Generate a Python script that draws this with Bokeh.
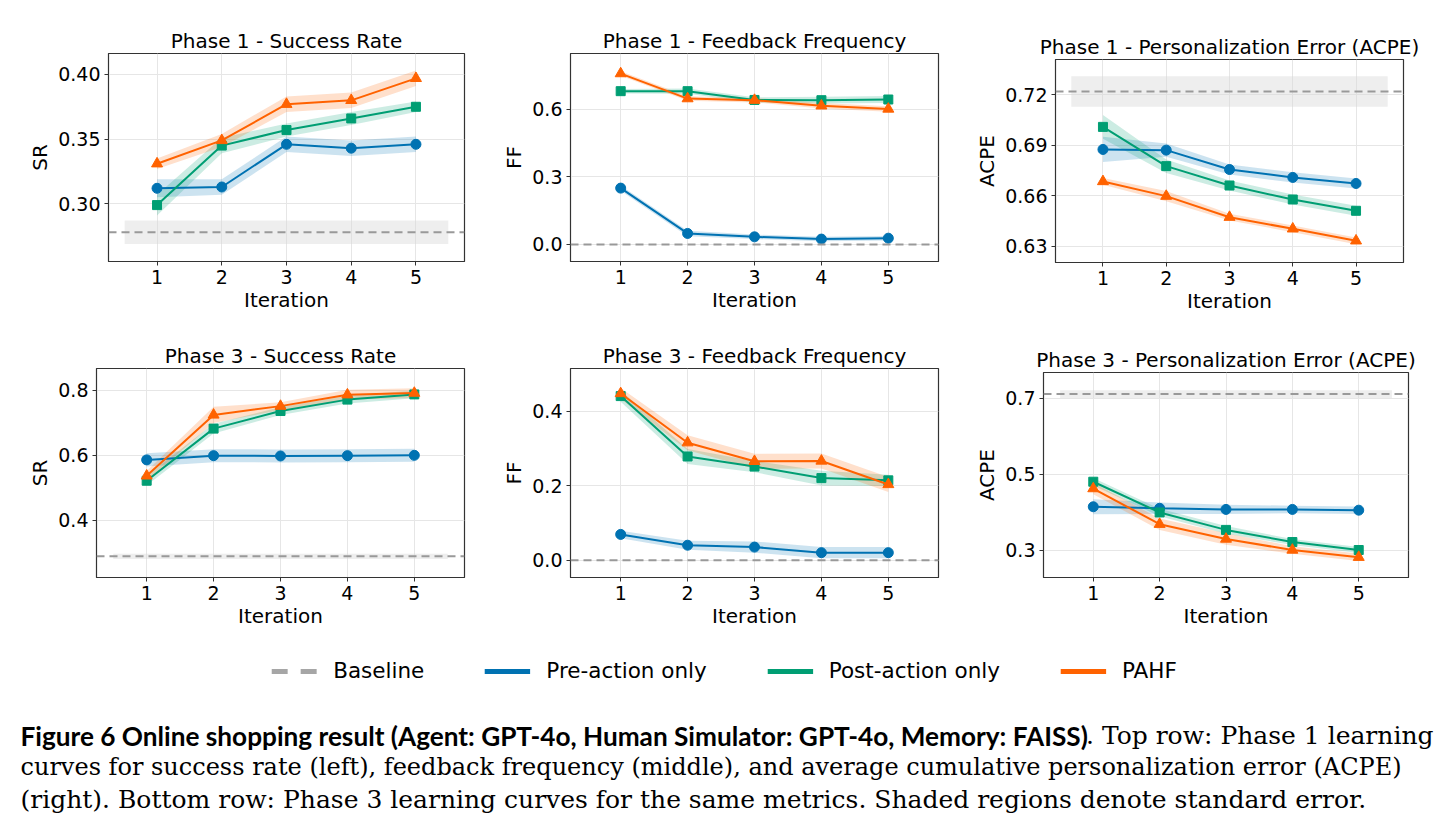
from bokeh.plotting import figure
from bokeh.layouts import column, row
from bokeh.models import (Range1d, FixedTicker, PrintfTickFormatter, Span,
                          Legend, LegendItem)
from bokeh.core.properties import value
from bokeh.embed import file_html
from bokeh.resources import INLINE

# ---------------- data ----------------
iterations = [1, 2, 3, 4, 5]
series_names = ["Pre-action only", "Post-action only", "PAHF"]
colors = ["#0072B2", "#009E73", "#FF6200"]
markers = ["circle", "square", "triangle"]
marker_sizes = [10, 9, 11]

# Phase 1 - Success Rate
p1_sr_pre = [0.312, 0.313, 0.346, 0.343, 0.346]
p1_sr_pre_se = [0.007, 0.006, 0.006, 0.006, 0.006]
p1_sr_post = [0.299, 0.345, 0.357, 0.366, 0.375]
p1_sr_post_se = [0.008, 0.006, 0.005, 0.005, 0.004]
p1_sr_pahf = [0.331, 0.349, 0.377, 0.380, 0.397]
p1_sr_pahf_se = [0.004, 0.005, 0.006, 0.006, 0.006]
p1_sr_base, p1_sr_base_se = 0.278, 0.009

# Phase 1 - Feedback Frequency
p1_ff_pre = [0.250, 0.049, 0.034, 0.024, 0.028]
p1_ff_pre_se = [0.012, 0.012, 0.010, 0.010, 0.010]
p1_ff_post = [0.680, 0.680, 0.641, 0.640, 0.643]
p1_ff_post_se = [0.010, 0.012, 0.012, 0.015, 0.015]
p1_ff_pahf = [0.758, 0.647, 0.640, 0.615, 0.601]
p1_ff_pahf_se = [0.010, 0.010, 0.010, 0.012, 0.012]
p1_ff_base, p1_ff_base_se = 0.0, 0.0

# Phase 1 - ACPE
p1_acpe_pre = [0.6876, 0.6872, 0.6757, 0.6710, 0.6674]
p1_acpe_pre_se = [0.0075, 0.004, 0.003, 0.003, 0.003]
p1_acpe_post = [0.7010, 0.6777, 0.6662, 0.6579, 0.6512]
p1_acpe_post_se = [0.007, 0.004, 0.003, 0.003, 0.003]
p1_acpe_pahf = [0.6686, 0.6599, 0.6474, 0.6405, 0.6334]
p1_acpe_pahf_se = [0.002, 0.003, 0.002, 0.002, 0.002]
p1_acpe_base, p1_acpe_base_se = 0.722, 0.009

# Phase 3 - Success Rate
p3_sr_pre = [0.586, 0.599, 0.598, 0.599, 0.600]
p3_sr_pre_se = [0.02, 0.02, 0.02, 0.02, 0.02]
p3_sr_post = [0.522, 0.682, 0.736, 0.771, 0.787]
p3_sr_post_se = [0.015, 0.015, 0.012, 0.012, 0.012]
p3_sr_pahf = [0.537, 0.724, 0.751, 0.786, 0.791]
p3_sr_pahf_se = [0.015, 0.025, 0.012, 0.015, 0.015]
p3_sr_base, p3_sr_base_se = 0.290, 0.008

# Phase 3 - Feedback Frequency
p3_ff_pre = [0.069, 0.040, 0.035, 0.020, 0.020]
p3_ff_pre_se = [0.010, 0.012, 0.015, 0.015, 0.015]
p3_ff_post = [0.440, 0.278, 0.251, 0.220, 0.214]
p3_ff_post_se = [0.015, 0.020, 0.015, 0.020, 0.015]
p3_ff_pahf = [0.447, 0.315, 0.265, 0.266, 0.203]
p3_ff_pahf_se = [0.015, 0.020, 0.020, 0.020, 0.020]
p3_ff_base, p3_ff_base_se = 0.0, 0.0

# Phase 3 - ACPE
p3_acpe_pre = [0.414, 0.410, 0.407, 0.407, 0.405]
p3_acpe_pre_se = [0.020, 0.015, 0.012, 0.010, 0.010]
p3_acpe_post = [0.480, 0.399, 0.353, 0.321, 0.300]
p3_acpe_post_se = [0.010, 0.010, 0.010, 0.008, 0.008]
p3_acpe_pahf = [0.462, 0.368, 0.329, 0.300, 0.281]
p3_acpe_pahf_se = [0.015, 0.015, 0.015, 0.010, 0.010]
p3_acpe_base, p3_acpe_base_se = 0.711, 0.010

titles = ["Phase 1 - Success Rate", "Phase 1 - Feedback Frequency",
          "Phase 1 - Personalization Error (ACPE)",
          "Phase 3 - Success Rate", "Phase 3 - Feedback Frequency",
          "Phase 3 - Personalization Error (ACPE)"]
ylabels = ["SR", "FF", "ACPE", "SR", "FF", "ACPE"]
yticks = [[0.30, 0.35, 0.40], [0.0, 0.3, 0.6], [0.63, 0.66, 0.69, 0.72],
          [0.4, 0.6, 0.8], [0.0, 0.2, 0.4], [0.3, 0.5, 0.7]]
yformats = ["%.2f", "%.1f", "%.2f", "%.1f", "%.1f", "%.1f"]
yranges = [(0.2554, 0.4162), (-0.0754, 0.847), (0.6205, 0.741),
           (0.225, 0.8665), (-0.0466, 0.514), (0.2275, 0.768)]

panel_series = [
    [(p1_sr_pre, p1_sr_pre_se), (p1_sr_post, p1_sr_post_se), (p1_sr_pahf, p1_sr_pahf_se)],
    [(p1_ff_pre, p1_ff_pre_se), (p1_ff_post, p1_ff_post_se), (p1_ff_pahf, p1_ff_pahf_se)],
    [(p1_acpe_pre, p1_acpe_pre_se), (p1_acpe_post, p1_acpe_post_se), (p1_acpe_pahf, p1_acpe_pahf_se)],
    [(p3_sr_pre, p3_sr_pre_se), (p3_sr_post, p3_sr_post_se), (p3_sr_pahf, p3_sr_pahf_se)],
    [(p3_ff_pre, p3_ff_pre_se), (p3_ff_post, p3_ff_post_se), (p3_ff_pahf, p3_ff_pahf_se)],
    [(p3_acpe_pre, p3_acpe_pre_se), (p3_acpe_post, p3_acpe_post_se), (p3_acpe_pahf, p3_acpe_pahf_se)],
]
baselines = [(p1_sr_base, p1_sr_base_se), (p1_ff_base, p1_ff_base_se), (p1_acpe_base, p1_acpe_base_se),
             (p3_sr_base, p3_sr_base_se), (p3_ff_base, p3_ff_base_se), (p3_acpe_base, p3_acpe_base_se)]

# layout: (width, height, border_left, border_right, border_top, border_bottom)
geoms = [(490, 320, 108, 26, 53, 59), (480, 320, 80, 32, 53, 59), (478, 320, 85, 45, 59, 58),
         (490, 320, 96, 26, 48, 63), (480, 320, 80, 32, 48, 63), (478, 320, 73, 40, 52, 63)]

FONT = "DejaVu Sans"


def make_panel(i):
    w, h, bl, br, bt, bb = geoms[i]
    p = figure(width=w, height=h, output_backend="svg", toolbar_location=None,
               x_range=Range1d(0.25, 5.75), y_range=Range1d(*yranges[i]),
               min_border_left=bl, min_border_right=br, min_border_top=bt,
               min_border_bottom=bb, title=titles[i])
    p.frame_align = False
    p.title.text_font = FONT
    p.title.text_font_size = "20px"
    p.title.text_font_style = "normal"
    p.title.align = "center"
    p.title.standoff = 1
    p.title.text_color = "black"
    p.outline_line_color = "#333333"
    p.outline_line_width = 1.2
    p.background_fill_color = "white"
    p.border_fill_color = "white"

    p.xaxis.ticker = FixedTicker(ticks=iterations)
    p.yaxis.ticker = FixedTicker(ticks=yticks[i])
    p.yaxis.formatter = PrintfTickFormatter(format=yformats[i])
    p.xaxis.axis_label = "Iteration"
    p.yaxis.axis_label = ylabels[i]
    for ax in (p.xaxis, p.yaxis):
        ax.axis_label_text_font = FONT
        ax.axis_label_text_font_size = "20px"
        ax.axis_label_text_font_style = "normal"
        ax.axis_label_text_color = "black"
        ax.major_label_text_font = FONT
        ax.major_label_text_font_size = "19px"
        ax.major_label_text_color = "black"
        ax.major_tick_out = 4
        ax.major_tick_in = 0
        ax.major_tick_line_color = "#333333"
        ax.minor_tick_line_color = None
        ax.axis_line_color = "#333333"
        ax.major_label_standoff = 4
    p.xaxis.axis_label_standoff = 1
    p.yaxis.axis_label_standoff = 3
    p.xgrid.ticker = FixedTicker(ticks=iterations)
    p.grid.grid_line_color = "#e6e6e6"
    p.grid.grid_line_width = 1

    base, base_se = baselines[i]
    if base_se > 0:
        p.varea(x=[0.5, 5.5], y1=[base - base_se] * 2, y2=[base + base_se] * 2,
                fill_color="#d9d9d9", fill_alpha=0.45)
    p.add_layout(Span(location=base, dimension="width", line_color="#999999",
                      line_width=2, line_dash="8 5"))

    for (vals, se), c in zip(panel_series[i], colors):
        lo = [v - s for v, s in zip(vals, se)]
        hi = [v + s for v, s in zip(vals, se)]
        p.varea(x=iterations, y1=lo, y2=hi, fill_color=c, fill_alpha=0.2)
    for (vals, se), c, m, ms in zip(panel_series[i], colors, markers, marker_sizes):
        p.line(x=iterations, y=vals, line_color=c, line_width=2)
        p.scatter(x=iterations, y=vals, marker=m, size=ms, fill_color=c, line_color=c)
    return p


panels = [make_panel(i) for i in range(6)]

# ---------------- legend + caption ----------------
bottom = figure(width=1448, height=190, output_backend="svg", toolbar_location=None,
                x_range=Range1d(0, 1448), y_range=Range1d(190, 0),
                x_axis_type=None, y_axis_type=None, min_border=0)
bottom.frame_align = False
bottom.outline_line_color = None
bottom.grid.visible = False

# legend-only proxy renderers, kept outside the visible range
hidden_x = [-20, -10]
hidden_y = [-20, -20]
r_base = bottom.line(x=hidden_x, y=hidden_y, line_color="#a6a6a6", line_width=5,
                     line_dash="16 13")
r_series = [bottom.line(x=hidden_x, y=hidden_y, line_color=c, line_width=5) for c in colors]
legend = Legend(items=[LegendItem(label="Baseline", renderers=[r_base])] +
                [LegendItem(label=n, renderers=[r]) for n, r in zip(series_names, r_series)],
                orientation="horizontal", location="top_center")
legend.label_text_font = FONT
legend.label_text_font_size = "21.5px"
legend.label_text_color = "black"
legend.glyph_width = 46
legend.glyph_height = 20
legend.label_standoff = 16
legend.spacing = 60
legend.padding = 0
legend.margin = 18
legend.border_line_color = None
legend.background_fill_alpha = 0
bottom.add_layout(legend)

caption_bold = "Figure 6  Online shopping result (Agent: GPT-4o, Human Simulator: GPT-4o, Memory: FAISS)"
caption_line1_rest = ". Top row: Phase 1 learning"
caption_line2 = ("curves for success rate (left), feedback frequency (middle), and average "
                 "cumulative personalization error (ACPE)")
caption_line3 = ("(right). Bottom row: Phase 3 learning curves for the same metrics. "
                 "Shaded regions denote standard error.")

SERIF = value("DejaVu Serif")
bottom.text(x=[20], y=[95], text=[caption_bold], text_font=value("Lato"),
            text_font_style="bold", text_font_size="26.2px", text_baseline="middle",
            text_color="black")
bottom.text(x=[1433], y=[95], text=[caption_line1_rest], text_font=SERIF,
            text_font_size="25px", text_baseline="middle", text_align="right",
            text_color="black")
bottom.text(x=[20], y=[126], text=[caption_line2], text_font=SERIF,
            text_font_size="24px", text_baseline="middle", text_color="black")
bottom.text(x=[20], y=[159], text=[caption_line3], text_font=SERIF,
            text_font_size="25px", text_baseline="middle", text_color="black")

layout = column(row(*panels[:3]), row(*panels[3:]), bottom)
open("out.html", "w").write(file_html(layout, INLINE))
